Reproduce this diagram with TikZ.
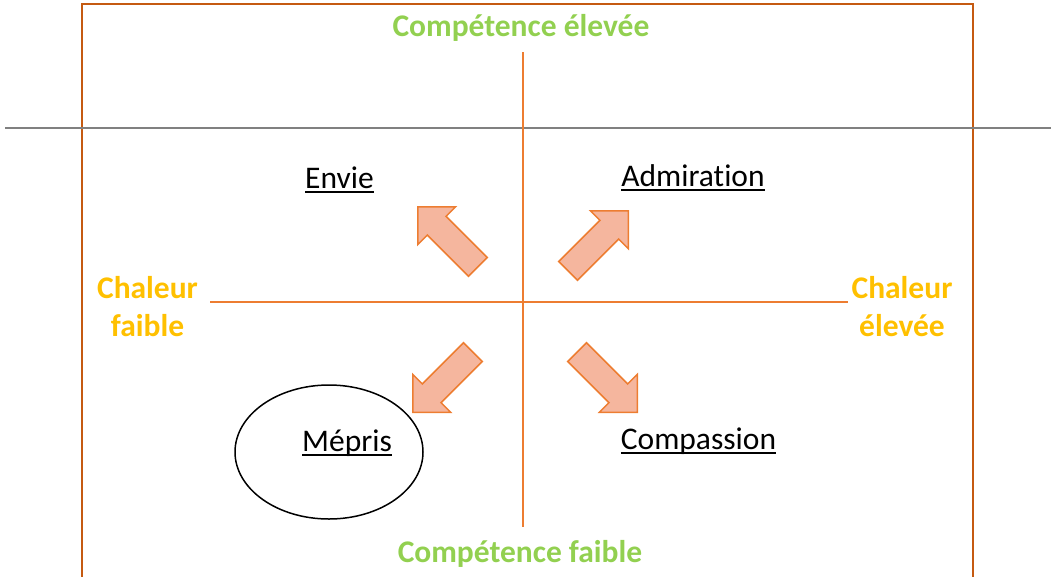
\documentclass[tikz,border=0pt]{standalone}
\usepackage{fontspec}
\setmainfont{Carlito}[Ligatures=NoCommon]
\usetikzlibrary{shapes.arrows,shapes.geometric}
\definecolor{vert}{RGB}{146,208,80}
\definecolor{jaune}{RGB}{255,192,0}
\definecolor{axe}{RGB}{237,125,49}
\definecolor{brun}{RGB}{197,90,17}
\definecolor{saumon}{RGB}{245,182,158}
\newcommand{\souligne}[1]{\setbox0\hbox{#1}\rlap{\rule[-5pt]{\wd0}{2pt}}\box0}
\begin{document}
\begin{tikzpicture}[x=1pt, y=-1pt,
    axes/.style={font=\fontsize{31.5}{38}\selectfont\bfseries, text=vert, inner sep=0pt, anchor=base},
    chaleur/.style={font=\fontsize{31.5}{38}\selectfont\bfseries, text=jaune, inner sep=0pt, align=center, anchor=base},
    emotion/.style={font=\fontsize{31.5}{38}\selectfont, inner sep=0pt, anchor=base},
    fleche/.style={single arrow, draw=axe, fill=saumon, line width=1.5pt, inner sep=12.5pt, minimum width=0pt, minimum height=85pt, single arrow head extend=13.5pt, anchor=tip}]
    \useasboundingbox (0,0) rectangle (1051,576);
    % cadre et lignes
    \draw[brun, line width=2.2pt] (82,620) -- (82,4) -- (973,4) -- (973,620);
    \draw[gray, line width=1.5pt] (5,128) -- (1051,128);
    \coordinate (haut) at (523,52);
    \coordinate (bas) at (523,527);
    \coordinate (gauche) at (210,302);
    \coordinate (droite) at (848,302);
    \draw[axe, line width=2pt] (haut) -- (bas);
    \draw[axe, line width=2pt] (gauche) -- (droite);
    % titres des axes
    \node[axes] (compfort) at (521,36) {Compétence élevée};
    \node[axes] (compfaible) at (520,562) {Compétence faible};
    \node[chaleur] (chalfaible) at (147.5,336) {Chaleur\\faible};
    \node[chaleur] (chalforte) at (902,336) {Chaleur\\élevée};
    % emotions
    \node[emotion] (envie) at (339.5,188) {\souligne{Envie}};
    \node[emotion] (admiration) at (693,186) {\souligne{Admiration}};
    \node[emotion] (mepris) at (347,451) {\souligne{Mépris}};
    \node[emotion] (compassion) at (698.5,449) {\souligne{Compassion}};
    \node[draw, ellipse, line width=1.5pt, minimum width=188pt, minimum height=134pt] (cercle) at (329,452) {};
    % fleches
    \node[fleche, rotate=135] (f1) at (417,206) {};
    \node[fleche, rotate=45] (f2) at (629,210) {};
    \node[fleche, rotate=225] (f3) at (412,413) {};
    \node[fleche, rotate=-45] (f4) at (638,413) {};
\end{tikzpicture}
\end{document}
